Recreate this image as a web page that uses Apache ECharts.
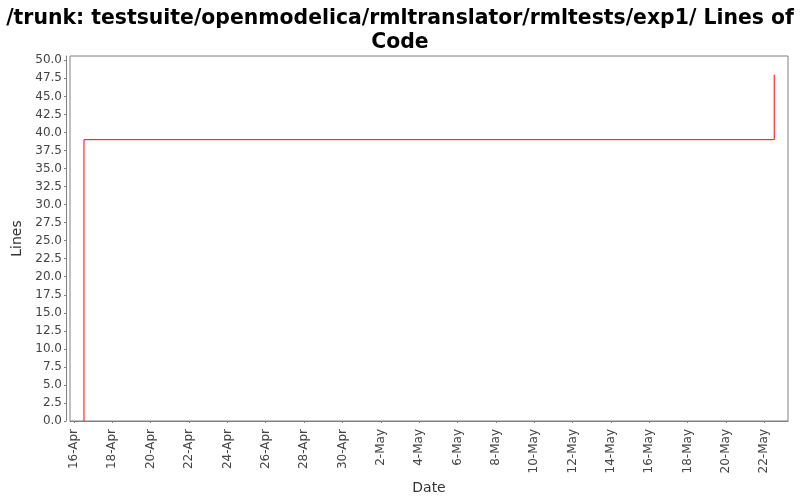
<!DOCTYPE html>
<html><head><meta charset="utf-8">
<script src="https://cdn.jsdelivr.net/npm/echarts@6/dist/echarts.min.js"></script>
<style>html,body{margin:0;padding:0;background:#fff}#c{width:800px;height:500px}</style>
</head><body><div id="c"></div>
<script>
const titleText = '/trunk: testsuite/openmodelica/rmltranslator/rmltests/exp1/ Lines of\nCode';
const tickDates = ['2008-04-16','2008-04-18','2008-04-20','2008-04-22','2008-04-24','2008-04-26','2008-04-28','2008-04-30','2008-05-02','2008-05-04','2008-05-06','2008-05-08','2008-05-10','2008-05-12','2008-05-14','2008-05-16','2008-05-18','2008-05-20','2008-05-22'];
const tickLabels = ['16-Apr','18-Apr','20-Apr','22-Apr','24-Apr','26-Apr','28-Apr','30-Apr','2-May','4-May','6-May','8-May','10-May','12-May','14-May','16-May','18-May','20-May','22-May'];
const pointDates = ['2008-04-16T12:30:00Z','2008-04-16T12:30:00Z','2008-05-22T12:30:00Z'];
const pointLines = [0, 39, 48];
const xRange = ['2008-04-15T19:00:00Z','2008-05-23T05:45:00Z'];

const tickMs = tickDates.map(d => Date.parse(d + 'T00:00:00Z'));
const labelMap = {};
tickMs.forEach((t, i) => { labelMap[t] = tickLabels[i]; });
const seriesData = pointDates.map((d, i) => [Date.parse(d), pointLines[i]]);

const chart = echarts.init(document.getElementById('c'));
chart.setOption({
  animation: false,
  backgroundColor: '#fff',
  title: {
    text: titleText, left: 'center', top: 2,
    textStyle: {fontFamily: 'DejaVu Sans', fontWeight: 'bold', fontSize: 20.4, color: '#000', lineHeight: 24}
  },
  grid: {left: 70, right: 12, top: 56, bottom: 79, outerBoundsMode: 'none', containLabel: false,
    show: true, borderColor: '#808080', borderWidth: 1, backgroundColor: '#fff'},
  xAxis: {
    type: 'value',
    min: Date.parse(xRange[0]), max: Date.parse(xRange[1]),
    offset: 4,
    name: 'Date', nameLocation: 'middle', nameGap: 54,
    nameTextStyle: {fontFamily: 'DejaVu Sans', fontSize: 14, color: '#333', fontWeight: 500},
    axisLine: {show: true, lineStyle: {color: '#808080'}},
    axisTick: {show: true, length: 2, lineStyle: {color: '#808080'}, customValues: tickMs},
    axisLabel: {
      customValues: tickMs, rotate: 90, margin: 4,
      fontFamily: 'DejaVu Sans', fontSize: 12, color: '#444',
      formatter: v => labelMap[v] || ''
    },
    splitLine: {show: false}
  },
  yAxis: {
    type: 'value', min: 0, max: 50.6, interval: 2.5,
    offset: 4,
    name: 'Lines', nameLocation: 'middle', nameGap: 38, nameRotate: 90,
    nameTextStyle: {fontFamily: 'DejaVu Sans', fontSize: 14, color: '#333', fontWeight: 500},
    axisLine: {show: true, lineStyle: {color: '#808080'}},
    axisTick: {show: true, length: 2, lineStyle: {color: '#808080'}},
    axisLabel: {fontFamily: 'DejaVu Sans', fontSize: 12, color: '#444', margin: 4, showMaxLabel: false,
      formatter: v => v.toFixed(1)},
    splitLine: {show: false}
  },
  series: [{
    type: 'line', step: 'end', data: seriesData, symbol: 'none',
    lineStyle: {color: '#ff0000', width: 1}
  }]
});
</script></body></html>
